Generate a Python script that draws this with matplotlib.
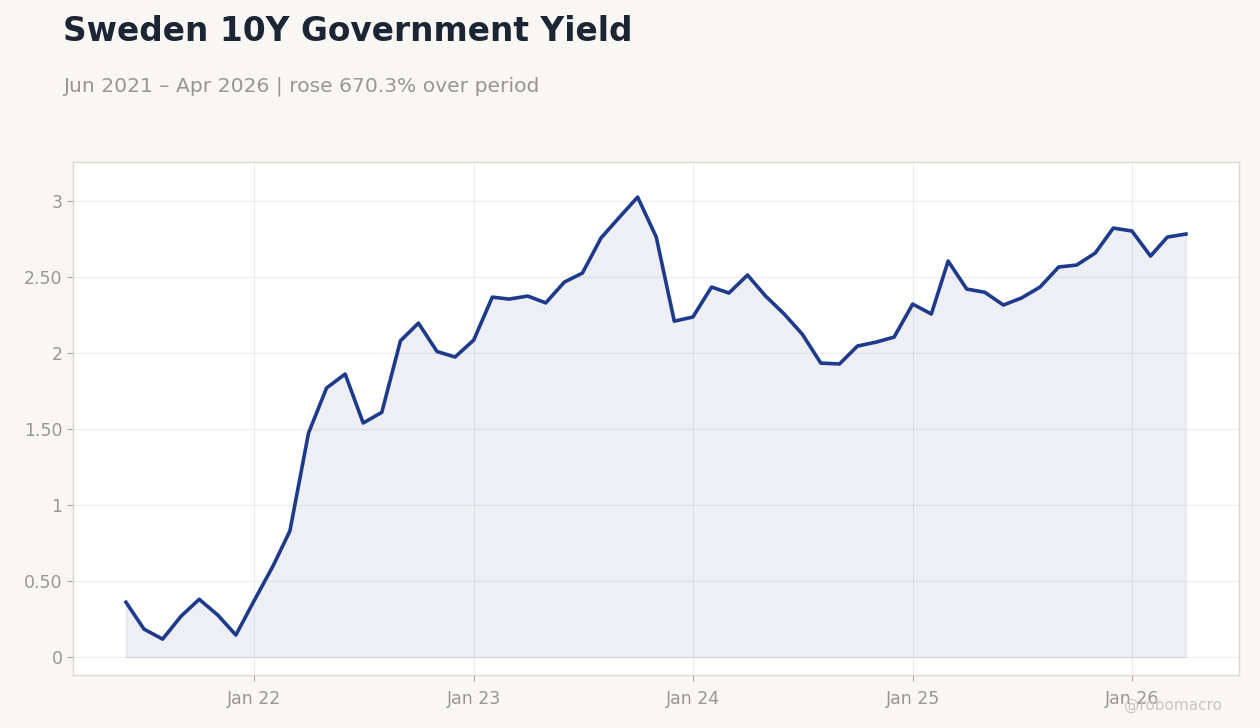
import numpy as np
import pandas as pd
import matplotlib
matplotlib.use('Agg')
import matplotlib.pyplot as plt
import matplotlib.dates as mdates
from matplotlib.ticker import FuncFormatter

# monthly 10Y yield, Jun 2021 - Apr 2026
dates = pd.date_range('2021-06-01', '2026-04-01', freq='MS')
yields = [0.361, 0.184, 0.118, 0.27, 0.38, 0.276, 0.145, 0.375, 0.60, 0.83,
          1.474, 1.77, 1.862, 1.54, 1.61, 2.08, 2.197, 2.01, 1.974, 2.085,
          2.368, 2.355, 2.375, 2.33, 2.467, 2.526, 2.757, 2.895, 3.026, 2.763,
          2.21, 2.237, 2.434, 2.395, 2.513, 2.375, 2.257, 2.125, 1.934, 1.928,
          2.046, 2.072, 2.105, 2.322, 2.257, 2.605, 2.421, 2.40, 2.316, 2.362,
          2.434, 2.566, 2.579, 2.658, 2.822, 2.803, 2.638, 2.763, 2.783]

title = 'Sweden 10Y Government Yield'
subtitle = 'Jun 2021 \u2013 Apr 2026 | rose 670.3% over period'

bg = '#f8f7f4'
line_c = '#1e3a8a'
grey = '#999590'

fig = plt.figure(figsize=(12.6, 7.28), dpi=100, facecolor=bg)
ax = fig.add_axes([0.0579, 0.0728, 0.9254, 0.7047])
ax.set_facecolor('white')

ax.fill_between(dates, yields, 0, facecolor=line_c, edgecolor=line_c,
                alpha=0.08, linewidth=1)
ax.plot(dates, yields, color=line_c, linewidth=2.6)

ax.set_ylim(-0.118, 3.257)
ax.set_yticks([0, 0.5, 1, 1.5, 2, 2.5, 3])

def fmt(v, pos):
    if abs(v - round(v)) < 1e-9:
        return '%d' % round(v)
    return '%.2f' % v
ax.yaxis.set_major_formatter(FuncFormatter(fmt))

ax.xaxis.set_major_locator(mdates.YearLocator())
ax.xaxis.set_major_formatter(mdates.DateFormatter('Jan %y'))

ax.grid(True, color='#eeece9', linewidth=0.8)
ax.set_axisbelow(True)
for s in ax.spines.values():
    s.set_color('#ddd8d0')
    s.set_linewidth(1)
ax.tick_params(colors='#aaa6a0', labelcolor=grey, labelsize=12.5, length=4, width=0.8)
ax.tick_params(axis='x', pad=7)

fig.text(0.05, 0.957, title, fontsize=23.7, fontweight='bold', color='#1c2533', va='center')
fig.text(0.05, 0.882, subtitle, fontsize=14.6, color=grey, va='center')
fig.text(0.97, 0.031, '@robomacro', fontsize=11, color='#c8c5c0', ha='right', va='center')

fig.savefig('out.png', dpi=100, facecolor=bg)
